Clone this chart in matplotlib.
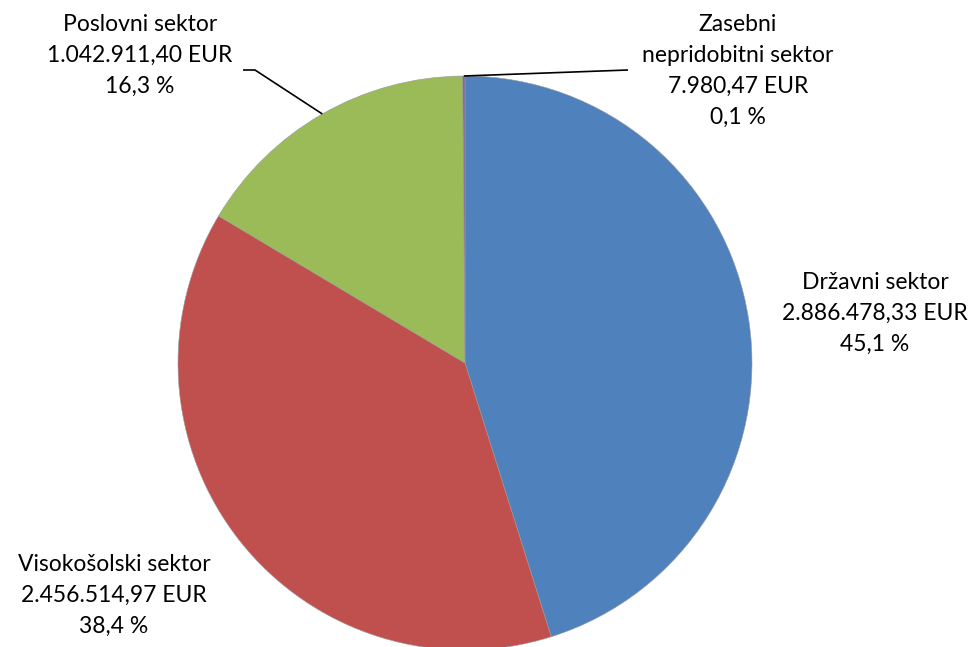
import matplotlib
matplotlib.use("Agg")
import matplotlib.pyplot as plt
import numpy as np

sectors = ["Državni sektor", "Visokošolski sektor", "Poslovni sektor", "Zasebni\nnepridobitni sektor"]
values = [2886478.33, 2456514.97, 1042911.40, 7980.47]
amount_labels = ["2.886.478,33 EUR", "2.456.514,97 EUR", "1.042.911,40 EUR", "7.980,47 EUR"]
pct_labels = ["45,1 %", "38,4 %", "16,3 %", "0,1 %"]
colors = ["#4F81BD", "#C0504D", "#9BBB59", "#8064A2"]

W, H = 976, 647
fig = plt.figure(figsize=(W / 100, H / 100), dpi=100)
ax = fig.add_axes([0, 0, 1, 1])
ax.set_xlim(0, W)
ax.set_ylim(0, H)
ax.set_aspect("equal")
ax.axis("off")

cx, cy, r = 465, H - 363, 287
ax.pie(values, colors=colors, startangle=90, counterclock=False,
       center=(cx, cy), radius=r, frame=True,
       wedgeprops=dict(linewidth=0.4, edgecolor="#9a9a9a"))
ax.set_xlim(0, W)
ax.set_ylim(0, H)
ax.axis("off")

font = dict(family="Lato", fontsize=16.5, color="black", ha="center", va="center", linespacing=1.58)

# label positions (pixel centers of text blocks)
label_pos = [(875, 313), (114, 595), (140, 55), (738, 71)]
for name, amt, pct, (lx, ly) in zip(sectors, amount_labels, pct_labels, label_pos):
    ax.text(lx, H - ly, f"{name}\n{amt}\n{pct}", **font)

# leader lines
total = sum(values)
cum = np.cumsum([0] + values[:-1]) / total
mid = (cum + np.array(values) / total / 2) * 2 * np.pi

def edge_point(i):
    a = mid[i]
    return cx + r * np.sin(a), cy + r * np.cos(a)

# Poslovni
px, py = edge_point(2)
ax.plot([243, 255, px], [H - 70, H - 70, py], color="black", lw=1.2, solid_capstyle="butt")
# Zasebni
zx, zy = edge_point(3)
ax.plot([zx, 628], [zy, H - 70], color="black", lw=1.2, solid_capstyle="butt")

fig.savefig("out.png", dpi=100)
